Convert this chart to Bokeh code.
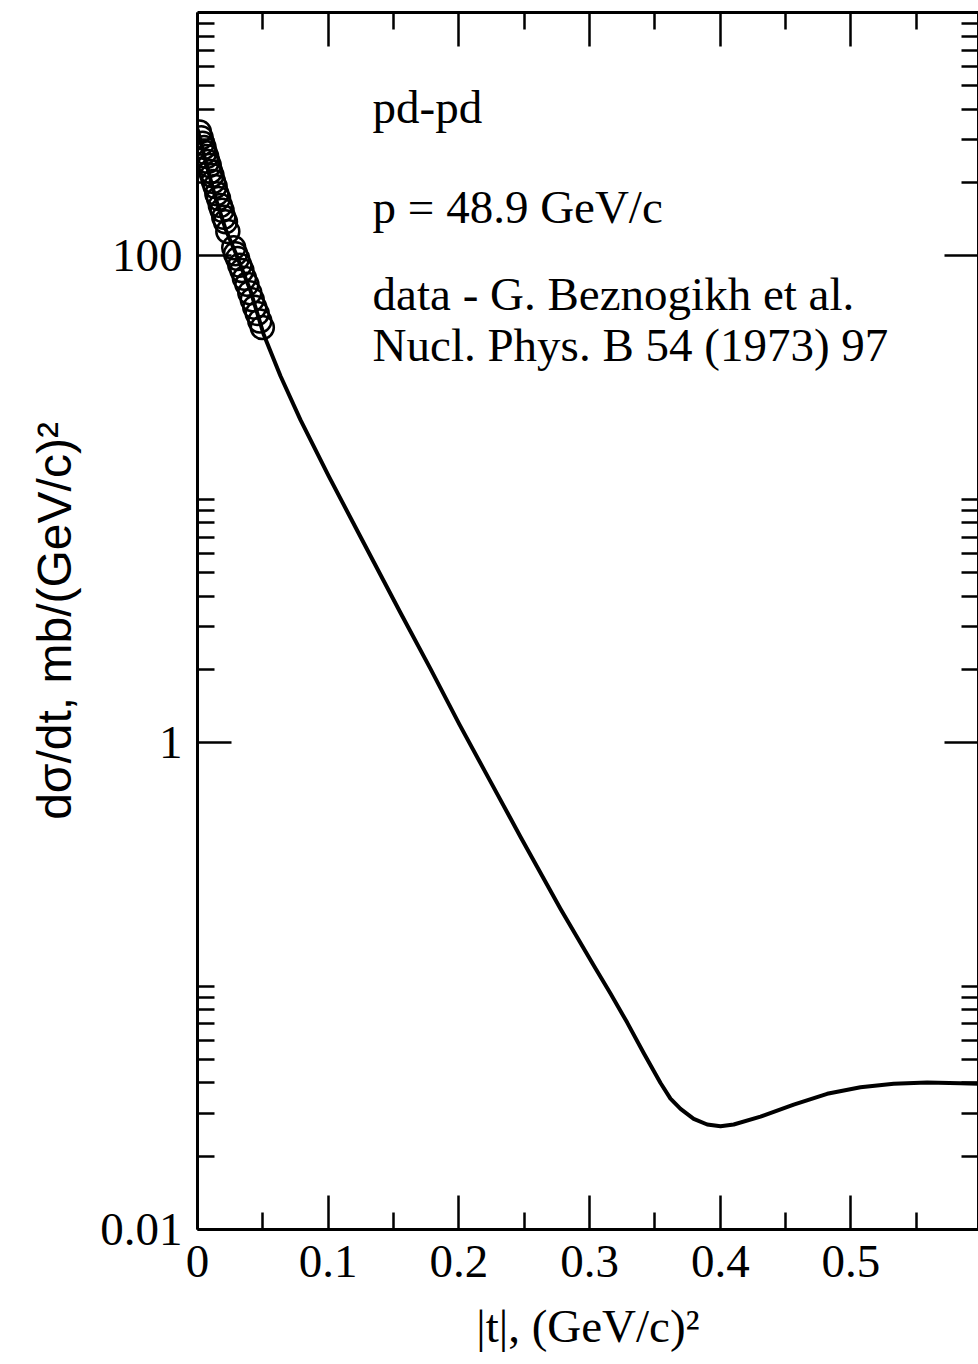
from bokeh.plotting import figure
from bokeh.models import LinearAxis, LogAxis, FixedTicker, Range1d, Label
from bokeh.embed import file_html
from bokeh.resources import INLINE

# ---- data ----
t_data = [0.0015, 0.0028, 0.0039, 0.0050, 0.0058, 0.0070, 0.0079, 0.0090, 0.0100, 0.0111,
          0.0122, 0.0135, 0.0148, 0.0161, 0.0175, 0.0188, 0.0201, 0.0214, 0.0232, 0.0277,
          0.0291, 0.0307, 0.0324, 0.0340, 0.0359, 0.0378, 0.0400, 0.0419, 0.0438, 0.0457,
          0.0477, 0.0496]
dsdt_data = [323, 306, 290, 279, 266, 256, 244, 235, 222, 214,
             202, 193, 180, 172, 161, 154, 144, 138, 126, 108,
             102, 97.5, 91.5, 87, 81, 76.5, 70.5, 66, 61.5, 58,
             54, 50.8]

t_model = [0.0, 0.0061, 0.0138, 0.0214, 0.0291, 0.0406, 0.0505, 0.0635, 0.0788, 0.1002,
           0.1247, 0.1553, 0.1783, 0.2005, 0.2242, 0.2471, 0.2777, 0.2905, 0.3032, 0.3160,
           0.3288, 0.3415, 0.3543, 0.3619, 0.3696, 0.3797, 0.3900, 0.4002, 0.4103, 0.4308,
           0.4562, 0.4818, 0.5073, 0.5327, 0.5583, 0.5838, 0.5975, 0.6]
dsdt_model = [332, 246, 173, 129, 103, 71.8, 47.8, 32.1, 21.2, 12.5,
              7.02, 3.42, 2.01, 1.186, 0.692, 0.411, 0.208, 0.1586, 0.1214, 0.0932,
              0.0708, 0.0530, 0.0400, 0.0345, 0.0313, 0.0285, 0.0270, 0.02655, 0.0270, 0.0291,
              0.0326, 0.0361, 0.0384, 0.0397, 0.0402, 0.0399, 0.0397, 0.0397]

x_ticks = [0, 0.1, 0.2, 0.3, 0.4, 0.5, 0.6]
x_tick_labels = ["0", "0.1", "0.2", "0.3", "0.4", "0.5", "0.6"]
x_minor = [0.05, 0.15, 0.25, 0.35, 0.45, 0.55]
y_ticks = [0.01, 1, 100]
y_tick_labels = ["0.01", "1", "100"]
y_minor = [0.02, 0.03, 0.04, 0.05, 0.06, 0.07, 0.08, 0.09, 0.1,
           2, 3, 4, 5, 6, 7, 8, 9, 10,
           200, 300, 400, 500, 600, 700, 800, 900]

annotations = ["pd-pd", "p = 48.9 GeV/c", "data - G. Beznogikh et al.", "Nucl. Phys. B 54 (1973) 97"]
annot_y = [409, 159, 69.8, 43.1]
annot_x = 0.134

SERIF = "Liberation Serif"
SANS = "Liberation Sans"
FS = "47px"

p = figure(width=978, height=1364, x_range=Range1d(0, 0.5976), y_range=Range1d(0.01, 1000),
           y_axis_type="log", output_backend="svg", toolbar_location=None,
           min_border_left=197, min_border_right=0, min_border_top=12, min_border_bottom=135,
           x_axis_label="|t|, (GeV/c)²", y_axis_label="dσ/dt, mb/(GeV/c)²")
p.grid.visible = False
p.outline_line_color = None
p.background_fill_color = "white"
p.border_fill_color = "white"

def style(ax, ticks, labels, minor):
    ax.ticker = FixedTicker(ticks=ticks, minor_ticks=minor)
    ax.axis_line_width = 3
    ax.axis_line_color = "black"
    ax.major_tick_in = 34
    ax.major_tick_out = 0
    ax.minor_tick_in = 17
    ax.minor_tick_out = 0
    ax.major_tick_line_width = 2.5
    ax.minor_tick_line_width = 2.5
    ax.major_tick_line_color = "black"
    ax.minor_tick_line_color = "black"
    ax.major_label_overrides = {k: v for k, v in zip(ticks, labels)}
    ax.major_label_text_color = "black"
    ax.axis_label_text_color = "black"
    ax.axis_label_text_font_style = "normal"

xa = p.xaxis[0]
style(xa, x_ticks, x_tick_labels, x_minor)
xa.major_label_text_font = SERIF
xa.major_label_text_font_size = FS
xa.major_label_standoff = 16
xa.axis_label_text_font = SERIF
xa.axis_label_text_font_size = "47px"
xa.axis_label_standoff = 20

ya = p.yaxis[0]
style(ya, y_ticks, y_tick_labels, y_minor)
ya.major_label_text_font = SERIF
ya.major_label_text_font_size = FS
ya.major_label_standoff = 15
ya.axis_label_text_font = SANS
ya.axis_label_text_font_size = "48px"
ya.axis_label_standoff = 16

top = LinearAxis()
style(top, x_ticks, [""] * len(x_ticks), x_minor)
top.major_label_text_font_size = "1px"
top.major_label_standoff = 0
p.add_layout(top, "above")

right = LogAxis()
style(right, y_ticks, [""] * len(y_ticks), y_minor)
right.major_label_text_font_size = "1px"
right.major_label_standoff = 0
p.add_layout(right, "right")

p.line(t_model, dsdt_model, line_color="black", line_width=4, line_join="round")
p.scatter(t_data, dsdt_data, marker="circle", size=23, fill_color=None,
          line_color="black", line_width=2.5)

for txt, yv in zip(annotations, annot_y):
    p.add_layout(Label(x=annot_x, y=yv, text=txt, text_font=SERIF, text_font_size=FS,
                       text_color="black", text_baseline="alphabetic"))

open("out.html", "w").write(file_html(p, INLINE))
